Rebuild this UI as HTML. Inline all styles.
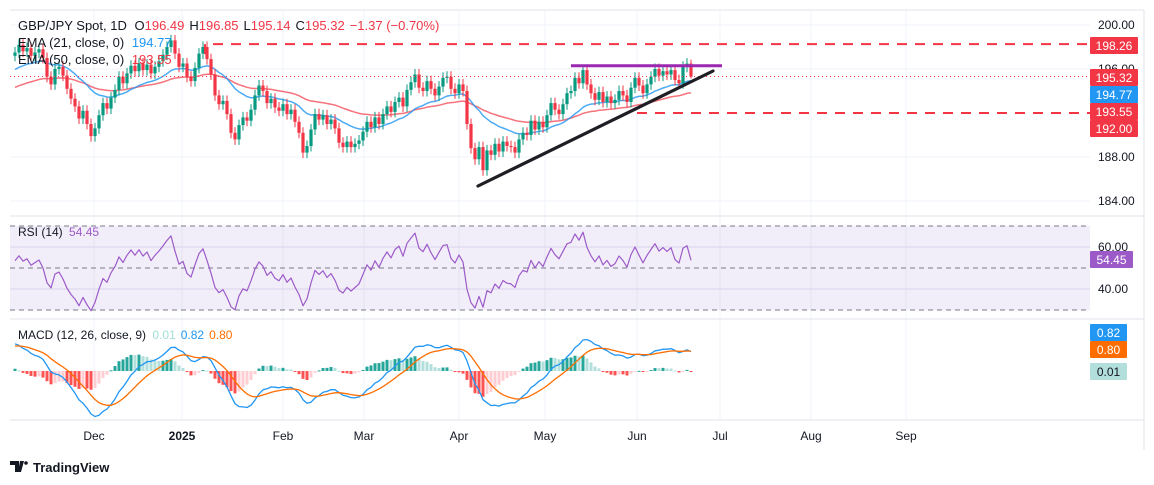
<!DOCTYPE html>
<html><head><meta charset="utf-8"><style>
html,body{margin:0;padding:0;background:#fff;width:1154px;height:485px;overflow:hidden;font-family:"Liberation Sans",sans-serif}
svg text{font-family:"Liberation Sans",sans-serif}
</style></head><body>
<svg id="c" width="1154" height="485" viewBox="0 0 1154 485" xmlns="http://www.w3.org/2000/svg">
<rect x="0" y="0" width="1154" height="485" fill="#fff"/>
<g id="grid"></g>
<rect x="10" y="226" width="1080" height="84" fill="rgba(126,87,194,0.1)"/>
<g id="rsiLines"></g>
<g id="main"></g>
<g id="rsi"></g>
<g id="macd"></g>
<g id="axis"></g>
<g id="legend">
<text x="18" y="30" font-size="13" fill="#131722">GBP/JPY Spot, 1D <tspan dx="4">O</tspan><tspan fill="#f23645">196.49</tspan><tspan dx="5">H</tspan><tspan fill="#f23645">196.85</tspan><tspan dx="5">L</tspan><tspan fill="#f23645">195.14</tspan><tspan dx="5">C</tspan><tspan fill="#f23645">195.32</tspan><tspan dx="5" fill="#f23645">−1.37 (−0.70%)</tspan></text>
<text x="18" y="47" font-size="13" fill="#131722">EMA (21, close, 0) <tspan dx="4" fill="#2196f3">194.77</tspan></text>
<text x="18" y="64" font-size="13" fill="#131722">EMA (50, close, 0) <tspan dx="4" fill="#f23645">193.55</tspan></text>
<text x="18" y="236" font-size="12" fill="#131722">RSI (14) <tspan dx="3" fill="#9c5ac9">54.45</tspan></text>
<text x="18" y="339" font-size="12" fill="#131722">MACD (12, 26, close, 9) <tspan dx="3" fill="#9fdfd6">0.01</tspan><tspan dx="5" fill="#2196f3">0.82</tspan><tspan dx="5" fill="#ff6d00">0.80</tspan></text>
</g>
<g>
<path d="M10 461 h9 v11 h-4 v-7 h-5 z M20 461 h4 l-3 11 h-3 z" fill="#131722"/>
<circle cx="26" cy="463" r="1.8" fill="#131722"/>
<text x="33" y="472" font-size="13" font-weight="bold" fill="#131722">TradingView</text>
</g>
</svg>
<script>
const closes=[197.5,198.2,197.6,197.9,197.2,197.5,197.8,197.0,195.3,194.6,196.0,196.2,195.4,194.2,193.3,192.6,191.5,192.2,191.0,189.9,
190.6,191.8,192.9,192.4,193.4,194.1,195.3,194.7,195.6,196.3,195.8,196.5,195.9,196.4,195.6,196.2,196.7,197.3,198.0,198.6,
197.4,196.2,196.5,195.3,194.9,196.1,197.4,198.0,196.9,195.5,193.6,192.8,193.1,191.9,190.2,189.6,190.9,191.6,191.3,192.3,
193.6,194.5,194.0,192.9,193.3,192.5,192.2,192.8,191.9,192.3,191.2,190.2,188.4,189.0,190.5,191.9,191.4,191.8,191.0,191.4,
190.6,189.3,188.9,189.4,188.9,189.2,189.5,190.3,191.2,190.7,191.6,191.0,191.9,192.6,192.1,193.0,193.4,192.6,194.1,194.8,
195.5,194.3,194.0,194.9,194.2,193.6,194.4,195.2,195.3,194.2,193.8,194.6,194.0,191.0,188.8,187.8,188.9,186.8,188.6,188.2,
189.2,188.5,189.4,189.0,188.9,188.4,189.6,190.2,190.0,191.3,190.5,191.2,190.7,191.8,192.9,192.3,191.9,192.8,193.8,194.0,
195.2,194.7,195.9,194.6,193.8,193.2,193.9,193.0,193.5,192.9,193.2,194.0,193.6,193.0,194.3,195.2,194.5,193.8,194.6,195.3,
196.0,195.4,195.8,195.5,195.9,195.0,194.7,196.2,196.49,195.32];
const firstOpen=197.2;
const lastHigh=196.85, lastLow=195.14;
const priceTicks=[200,196,188,184];
const rsiTicks=[60,40];
const monthLabels=["Dec","2025","Feb","Mar","Apr","May","Jun","Jul","Aug","Sep"];
const monthIdx=[19.75,41.75,67,87.25,111,132.5,155.5,176.25,199,222.75];
const levelPrices=[198.26,192.00];
const resistance=196.3;
const ema21Seed=195.8, ema50Seed=194.2;
const shownValues={ema21:"194.77",ema50:"193.55",rsi:"54.45",macd:"0.82",signal:"0.80",hist:"0.01"};

const NS="http://www.w3.org/2000/svg";
function mk(p,tag,attrs){const e=document.createElementNS(NS,tag);for(const k in attrs)e.setAttribute(k,attrs[k]);p.appendChild(e);return e;}
const X=i=>15+4*i;
const PY=p=>25+(200-p)*11;
const RY=r=>226+(70-r)*2.1;
const MY=m=>371-m*28;
const G=document.getElementById('grid'),M=document.getElementById('main'),R=document.getElementById('rsi'),
 MC=document.getElementById('macd'),A=document.getElementById('axis'),RL=document.getElementById('rsiLines');

monthIdx.forEach(i=>{const l=mk(G,'line',{x1:X(i),x2:X(i),y1:10,y2:420,stroke:'#f0f3fa'});

});
priceTicks.forEach(p=>{const l=mk(G,'line',{x1:10,x2:1090,y1:PY(p),y2:PY(p),stroke:'#f0f3fa'});

});
rsiTicks.forEach(r=>{const l=mk(G,'line',{x1:10,x2:1090,y1:RY(r),y2:RY(r),stroke:'#e6e3f0'});

});
[70,50,30].forEach(r=>{const l=mk(RL,'line',{x1:10,x2:1090,y1:RY(r),y2:RY(r),stroke:'#787b86','stroke-dasharray':'5,4'});

});
[[10,10,1144,10],[1144,10,1144,450],[10,216,1144,216],[10,319,1144,319],[10,420,1144,420]].forEach(a=>{
const l=mk(A,'line',{x1:a[0],y1:a[1],x2:a[2],y2:a[3],stroke:'#e0e3eb'});

});

function ema(arr,n,seed){const k=2/(n+1);let v=seed;return arr.map(c=>(v=c*k+v*(1-k)));}
const e21=ema(closes,21,ema21Seed), e50=ema(closes,50,ema50Seed);
function poly(p,arr,fy,color,w,name,op){const pts=arr.map((v,i)=>X(i)+','+fy(v).toFixed(1)).join(' ');
const e=mk(p,'polyline',{points:pts,fill:'none',stroke:color,'stroke-width':w,'stroke-opacity':op||1,'stroke-linejoin':'round'});

return e;}
poly(M,e50,PY,'#f23645',1.5,'ema50-line',0.7);
poly(M,e21,PY,'#2196f3',1.5,'ema21-line',0.8);

closes.forEach((c,i)=>{
 const o=i===0?firstOpen:closes[i-1];
 const last=i===closes.length-1;
 const hi=last?lastHigh:Math.max(o,c)+0.5, lo=last?lastLow:Math.min(o,c)-0.5;
 const col=c>=o?'#089981':'#f23645';
 const g=mk(M,'g',{});
 
 
 mk(g,'line',{x1:X(i),x2:X(i),y1:PY(hi),y2:PY(lo),stroke:col});
 const t=PY(Math.max(o,c)),b=PY(Math.min(o,c));
 mk(g,'rect',{x:X(i)-1.6,y:t,width:3.2,height:Math.max(1,b-t),fill:col});
});

const d1=mk(M,'path',{d:`M205 ${PY(levelPrices[0])+10} V${PY(levelPrices[0])} H1090`,fill:'none',stroke:'#f23645','stroke-width':2,'stroke-dasharray':'10,8'});


const d2=mk(M,'line',{x1:637,x2:1090,y1:PY(levelPrices[1]),y2:PY(levelPrices[1]),stroke:'#f23645','stroke-width':2,'stroke-dasharray':'10,8'});


const dl=mk(M,'line',{x1:10,x2:1090,y1:PY(closes[closes.length-1]),y2:PY(closes[closes.length-1]),stroke:'#f23645','stroke-dasharray':'1,3'});


const pl=mk(M,'line',{x1:571,x2:722,y1:PY(resistance),y2:PY(resistance),stroke:'#9c27b0','stroke-width':3});


const tl=mk(M,'line',{x1:478,y1:186,x2:713,y2:71,stroke:'#1e1e24','stroke-width':3.2,'stroke-linecap':'round'});



let ag=0.55,al=0.5;const rsiV=[];
closes.forEach((c,i)=>{const o=i===0?firstOpen:closes[i-1];const d=c-o;
ag=(ag*13+Math.max(d,0))/14;al=(al*13+Math.max(-d,0))/14;rsiV.push(100-100/(1+ag/al));});
poly(R,rsiV,RY,'#9c5ac9',1.2,'rsi-line');

const e12=ema(closes,12,firstOpen+0.9),e26=ema(closes,26,firstOpen-0.2);
const macd=e12.map((v,i)=>v-e26[i]);
const sig=ema(macd,9,macd[0]-0.1);
macd.forEach((m,i)=>{const h=m-sig[i];const prev=i?macd[i-1]-sig[i-1]:h;
 const col=h>=0?(h>=prev?'#26a69a':'#b2dfdb'):(h<prev?'#ff5252':'#ffcdd2');
 const y=Math.min(MY(h),MY(0));const r=mk(MC,'rect',{x:X(i)-1.5,y:y,width:3,height:Math.max(1,Math.abs(MY(h)-MY(0))),fill:col});
 
 });
poly(MC,macd,MY,'#2196f3',1.3,'macd-line');
poly(MC,sig,MY,'#ff6d00',1.3,'signal-line');

function txt(p,x,y,s,attrs,name){const t=mk(p,'text',Object.assign({x:x,y:y,'font-size':12,fill:'#131722'},attrs||{}));t.textContent=s;

return t;}
priceTicks.forEach(p=>txt(A,1098,PY(p)+4,p.toFixed(2),{},'price-tick'));
rsiTicks.forEach(r=>txt(A,1098,RY(r)+4,r.toFixed(2),{},'rsi-tick'));
monthLabels.forEach((m,i)=>txt(A,X(monthIdx[i]),440,m,{'text-anchor':'middle','font-weight':m==='2025'?'bold':'normal'},'time-tick'));
function badge(y,w,bg,fg,s,name){const g=mk(A,'g',{});


mk(g,'rect',{x:1090,y:y,width:w,height:17,fill:bg,rx:1});
const t=mk(g,'text',{x:1090+w/2,y:y+13,'font-size':12,fill:fg,'text-anchor':'middle'});t.textContent=s;}
badge(37,48,'#f23645','#fff','198.26','label-198-26');
badge(69,48,'#f23645','#fff',closes[closes.length-1].toFixed(2),'label-last-price');
badge(86,48,'#2196f3','#fff',shownValues.ema21,'label-ema21');
badge(103,48,'#f23645','#fff',shownValues.ema50,'label-ema50');
badge(120,48,'#f23645','#fff','192.00','label-192');
badge(251,43,'#9c5ac9','#fff',shownValues.rsi,'label-rsi');
badge(324,37,'#2196f3','#fff',shownValues.macd,'label-macd');
badge(341,37,'#ff6d00','#fff',shownValues.signal,'label-signal');
badge(363,37,'#b2dfdb','#131722',shownValues.hist,'label-histogram');
</script>
</body></html>
